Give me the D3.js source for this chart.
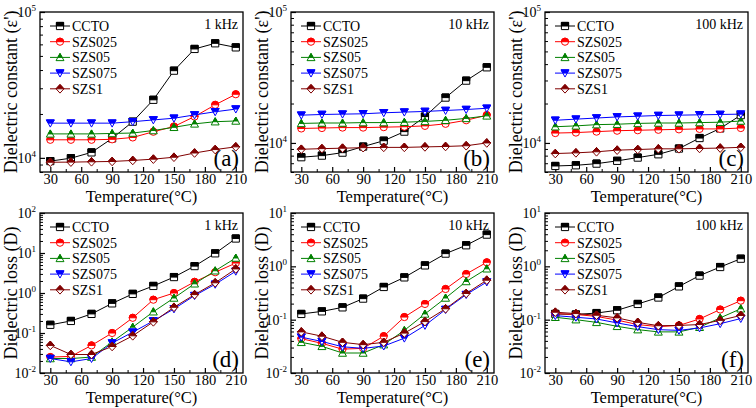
<!DOCTYPE html>
<html><head><meta charset="utf-8">
<script src="https://cdn.jsdelivr.net/npm/d3@7"></script>
<style>body{margin:0;background:#fff} svg text{font-family:"Liberation Serif","Times New Roman",serif}</style>
</head><body><svg id="c" width="756" height="408"></svg>
<script>
const temps = [30,50,70,90,110,130,150,170,190,210];
const seriesNames = ["CCTO","SZS025","SZS05","SZS075","SZS1"];
const colors = ["#000000","#ff0000","#008000","#0000ff","#800000"];
const shapes = ["square","circle","triUp","triDown","diamond"];
const xTicks = [30,60,90,120,150,180,210];
const xMinor = [45,75,105,135,165,195];
const freqLabels = ["1 kHz","10 kHz","100 kHz"];
const panelLetters = ["(a)","(b)","(c)","(d)","(e)","(f)"];

// Dielectric constant, series order as seriesNames
const eps1k = [
  [9500,9950,10900,13600,17700,25000,39600,55800,61000,57200],
  [13300,13300,13300,13400,13800,15100,16400,19200,23100,27300],
  [14600,14600,14600,14700,14800,15400,16200,17100,17700,17900],
  [17300,17300,17300,17300,17700,18200,18700,19700,20700,21600],
  [9330,9350,9400,9450,9600,9800,10100,10800,11400,11900]
];
const eps10k = [
  [7780,8000,8430,9380,10400,12200,15900,22200,29900,37800],
  [12900,13000,13100,13100,13200,13300,13500,14000,14900,16300],
  [14100,14200,14200,14300,14300,14400,14600,14900,15400,16100],
  [16300,16500,16600,16700,17000,17200,17400,17700,18000,18400],
  [8950,9050,9120,9200,9250,9250,9330,9400,9520,10000]
];
const eps100k = [
  [6670,6750,6950,7300,7730,8190,9060,10900,12900,16300],
  [11900,12000,12200,12400,12500,12600,12700,12800,12800,13000],
  [13300,13500,13800,13900,14100,14200,14200,14300,14400,14700],
  [14900,15200,15500,15800,16000,16200,16300,16400,16500,16600],
  [8300,8400,8560,8810,8910,9020,9020,9080,9140,9260]
];
// Dielectric loss
const loss1k = [
  [0.16,0.2,0.3,0.55,0.95,1.5,2.5,4.7,9.8,23],
  [0.025,0.026,0.049,0.1,0.24,0.68,1.0,1.9,3.3,5.6],
  [0.023,0.023,0.025,0.06,0.14,0.34,0.75,1.7,3.6,7.5],
  [0.023,0.019,0.023,0.056,0.105,0.2,0.4,0.86,1.65,3.5],
  [0.049,0.029,0.029,0.046,0.085,0.19,0.44,0.91,1.8,4.0]
];
const loss10k = [
  [0.128,0.143,0.170,0.248,0.41,0.62,1.04,1.73,2.48,3.93],
  [0.044,0.036,0.028,0.029,0.049,0.112,0.197,0.376,0.718,1.19],
  [0.0376,0.0316,0.0237,0.0237,0.034,0.063,0.128,0.255,0.52,0.90],
  [0.047,0.039,0.031,0.029,0.032,0.045,0.078,0.155,0.295,0.508],
  [0.059,0.049,0.0376,0.034,0.0376,0.056,0.092,0.16,0.31,0.55]
];
const loss100k = [
  [0.128,0.125,0.133,0.15,0.197,0.26,0.42,0.67,0.97,1.39],
  [0.13,0.125,0.115,0.098,0.081,0.074,0.078,0.103,0.155,0.227],
  [0.111,0.1,0.089,0.075,0.065,0.059,0.059,0.072,0.108,0.16],
  [0.119,0.111,0.103,0.087,0.074,0.065,0.063,0.07,0.084,0.105],
  [0.138,0.13,0.121,0.108,0.089,0.077,0.078,0.081,0.097,0.12]
];

const epsDomains = [[8000,1e5],[6000,1e5],[6000,1e5]];
const lossDomains = [[0.01,100],[0.01,10],[0.01,10]];
const epsExps = [[4,5],[4,5],[4,5]];
const lossExps = [[-2,-1,0,1,2],[-2,-1,0,1],[-2,-1,0,1]];
const xDomain = [20,217];

const FONT = "Liberation Serif";
const svg = d3.select("#c");
const colX = [40,291,545];
const pw = 203;
const rows = [{y0:12,y1:172},{y0:213,y1:373}];

function fullPath(s,r){
  switch(s){
    case "square": return `M${-r},${-r}H${r}V${r}H${-r}Z`;
    case "circle": return `M${-r},0A${r},${r} 0 1 1 ${r},0A${r},${r} 0 1 1 ${-r},0Z`;
    case "triUp": return `M0,${-r*1.1}L${r*1.1},${r*0.9}L${-r*1.1},${r*0.9}Z`;
    case "triDown": return `M${-r*1.1},${-r*0.9}L${r*1.1},${-r*0.9}L0,${r*1.1}Z`;
    case "diamond": return `M0,${-r*1.2}L${r*1.1},0L0,${r*1.2}L${-r*1.1},0Z`;
  }
}
function halfPath(s,r){
  switch(s){
    case "square": return `M${-r},${-r}H${r}V0H${-r}Z`;
    case "circle": return `M${-r},0A${r},${r} 0 0 1 ${r},0Z`;
    case "triUp": return `M0,${-r*1.1}L${r*0.55*1.1},0L${-r*0.55*1.1},0Z`;
    case "triDown": return `M${-r*1.1},${-r*0.9}L${r*1.1},${-r*0.9}L${r*0.55},0L${-r*0.55},0Z`;
    case "diamond": return `M0,${-r*1.2}L${r*1.1},0L${-r*1.1},0Z`;
  }
}
function marker(g,cx,cy,i){
  const r = 3.6;
  const m = g.append("g").attr("transform",`translate(${cx},${cy})`);
  m.append("path").attr("d",fullPath(shapes[i],r)).attr("fill","#fff").attr("stroke",colors[i]).attr("stroke-width",1);
  m.append("path").attr("d",halfPath(shapes[i],r)).attr("fill",colors[i]).attr("stroke",colors[i]).attr("stroke-width",1);
}

function drawPanel(data, col, row, yDomain, exps, ytitle, freq, letter){
  const x0 = colX[col], x1 = x0+pw, y0 = rows[row].y0, y1 = rows[row].y1;
  const x = d3.scaleLinear().domain(xDomain).range([x0,x1]);
  const y = d3.scaleLog().domain(yDomain).range([y1,y0]);
  const g = svg.append("g");
  // x axis
  const ax = g.append("g").attr("transform",`translate(0,${y1})`)
    .call(d3.axisBottom(x).tickValues(xTicks).tickSize(-5).tickPadding(2));
  ax.select(".domain").remove();
  ax.attr("font-family",FONT);
  ax.selectAll("line").attr("stroke-width",1.2);
  ax.selectAll("text").attr("font-size",14.5).attr("font-family",FONT).attr("fill","#000");
  const axm = g.append("g").attr("transform",`translate(0,${y1})`)
    .call(d3.axisBottom(x).tickValues(xMinor).tickSize(-3).tickFormat(""));
  axm.select(".domain").remove();
  // y axis
  const major = exps.map(e=>Math.pow(10,e));
  const minor = [];
  for(let e=Math.floor(Math.log10(yDomain[0]))-1;e<=Math.ceil(Math.log10(yDomain[1]));e++){
    for(let k=2;k<=9;k++){const v=k*Math.pow(10,e); if(v>=yDomain[0]*0.999&&v<=yDomain[1]*1.001) minor.push(v);}
  }
  const ay = g.append("g").attr("transform",`translate(${x0},0)`)
    .call(d3.axisLeft(y).tickValues(major).tickSize(-5).tickFormat(""));
  ay.select(".domain").remove();
  ay.selectAll("line").attr("stroke-width",1.2);
  const aym = g.append("g").attr("transform",`translate(${x0},0)`)
    .call(d3.axisLeft(y).tickValues(minor).tickSize(-3).tickFormat(""));
  aym.select(".domain").remove();
  exps.forEach(e=>{
    const t = g.append("text").attr("x",x0-4).attr("y",y(Math.pow(10,e))+5)
      .attr("text-anchor","end").attr("font-size",14).attr("font-family",FONT);
    t.append("tspan").text("10");
    t.append("tspan").attr("dy",-6).attr("font-size",9).text(String(e));
  });
  // frame
  g.append("rect").attr("x",x0).attr("y",y0).attr("width",pw).attr("height",y1-y0)
    .attr("fill","none").attr("stroke","#000").attr("stroke-width",1.3);
  // titles
  g.append("text").attr("x",(x0+x1)/2).attr("y",y1+30).attr("text-anchor","middle")
    .attr("font-size",16.5).attr("font-family",FONT).text("Temperature(°C)");
  g.append("text").attr("transform",`translate(${x0-23},${(y0+y1)/2}) rotate(-90)`)
    .attr("text-anchor","middle").attr("font-size",18).attr("font-family",FONT).text(ytitle);
  g.append("text").attr("x",x1-5).attr("y",y0+17).attr("text-anchor","end").attr("font-size",14).attr("font-family",FONT).text(freq);
  g.append("text").attr("x",x1-4).attr("y",y1-6).attr("text-anchor","end").attr("font-size",23).attr("font-family",FONT).text(letter);
  // series
  const line = d3.line().x((d,i)=>x(temps[i])).y(d=>y(d));
  data.forEach((s,i)=>{
    g.append("path").attr("d",line(s)).attr("fill","none").attr("stroke",colors[i]).attr("stroke-width",1);
    s.forEach((v,j)=>marker(g,x(temps[j]),y(v),i));
  });
  // legend
  seriesNames.forEach((n,i)=>{
    const ly = y0+14+i*15.7;
    g.append("line").attr("x1",x0+10).attr("x2",x0+30).attr("y1",ly).attr("y2",ly).attr("stroke",colors[i]).attr("stroke-width",1);
    marker(g,x0+20,ly,i);
    g.append("text").attr("x",x0+32).attr("y",ly+5).attr("font-size",14).attr("font-family",FONT).text(n);
  });
}

const epsData = [eps1k,eps10k,eps100k];
const lossData = [loss1k,loss10k,loss100k];
for(let c=0;c<3;c++){
  drawPanel(epsData[c],c,0,epsDomains[c],epsExps[c],"Dielectric constant (ε')",freqLabels[c],panelLetters[c]);
  drawPanel(lossData[c],c,1,lossDomains[c],lossExps[c],"Dielectric loss (D)",freqLabels[c],panelLetters[c+3]);
}
</script></body></html>
